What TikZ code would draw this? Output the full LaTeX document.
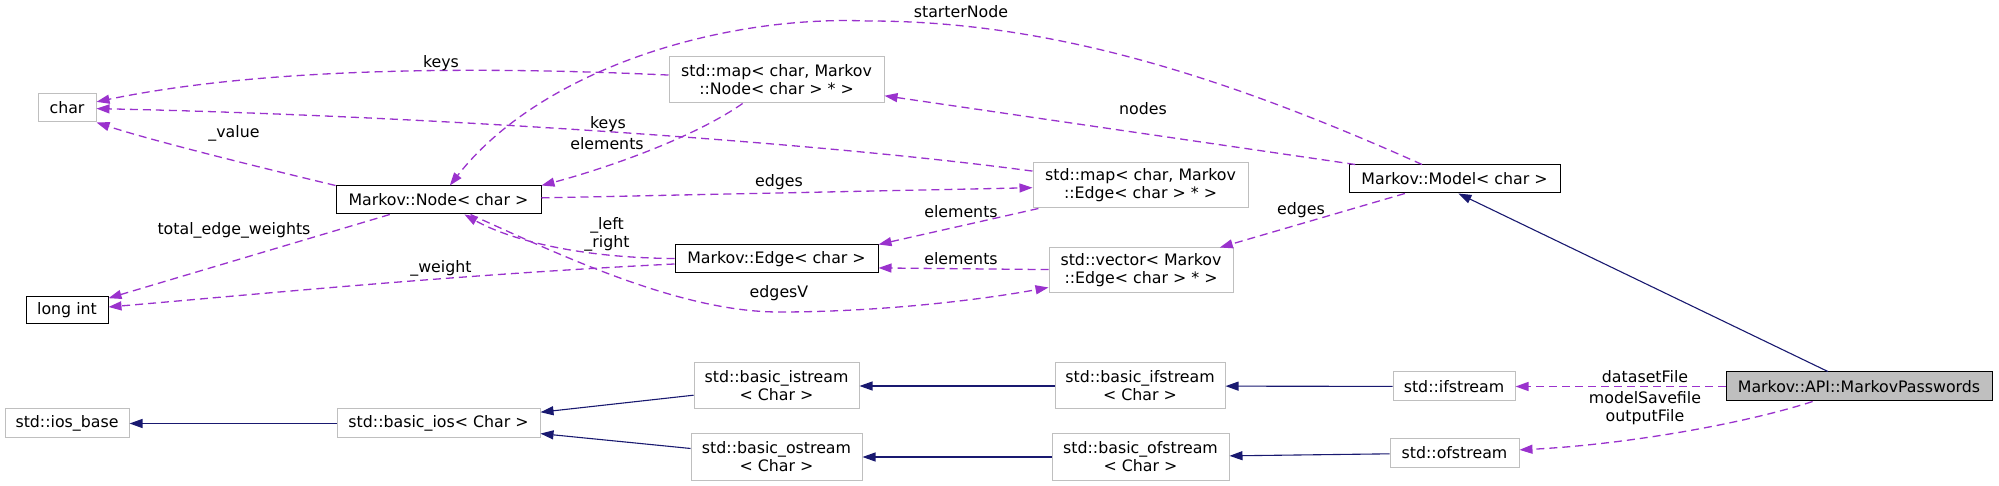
\documentclass[tikz,border=0pt]{standalone}
\usepackage{fontspec}
\setmainfont{DejaVu Sans}
\usetikzlibrary{arrows.meta}
\definecolor{mauve}{HTML}{9A32CD}
\definecolor{navy}{HTML}{191970}
\definecolor{boxgrey}{HTML}{BFBFBF}
\newcommand{\dgfont}{\fontsize{7.9pt}{9pt}\selectfont}

\begin{document}
\begin{tikzpicture}[x=0.5pt,y=-0.5pt,
  cls/.style={draw=black,fill=white,line width=0.5pt,inner sep=0pt,align=center,font=\dgfont},
  ext/.style={cls,draw=boxgrey},
  hl/.style={cls,fill=boxgrey},
  lbl/.style={font=\dgfont,inner sep=0pt},
  inh/.style={draw=navy,line width=0.55pt,-{Triangle[length=6.5pt,width=4.5pt]}},
  use/.style={draw=mauve,line width=0.65pt,dash pattern=on 4pt off 2.5pt,-{Triangle[length=6.5pt,width=4.5pt]}}]
  \useasboundingbox (0,0) rectangle (1999,486);
  % classes
  \node[ext,minimum width=29pt,minimum height=14pt] (char) at (67,108) {char};
  \node[cls,minimum width=102.5pt,minimum height=14pt] (node) at (438.5,200) {Markov::Node< char >};
  \node[cls,minimum width=41pt,minimum height=13.5pt] (longint) at (67,310.5) {long int};
  \node[ext,minimum width=107.5pt,minimum height=23pt] (mapnode) at (776.5,80) {std::map< char, Markov\\::Node< char > * >};
  \node[ext,minimum width=107.5pt,minimum height=22.5pt] (mapedge) at (1140.5,185.5) {std::map< char, Markov\\::Edge< char > * >};
  \node[cls,minimum width=101.5pt,minimum height=14pt] (edge) at (776.5,259) {Markov::Edge< char >};
  \node[ext,minimum width=92pt,minimum height=22.5pt] (vector) at (1141,270.5) {std::vector< Markov\\::Edge< char > * >};
  \node[cls,minimum width=105.5pt,minimum height=14pt] (model) at (1454.5,179) {Markov::Model< char >};
  % streams
  \node[ext,minimum width=62pt,minimum height=14.5pt] (iosbase) at (67,423.5) {std::ios\_base};
  \node[ext,minimum width=101.5pt,minimum height=14.5pt] (basicios) at (438.5,423.5) {std::basic\_ios< Char >};
  \node[ext,minimum width=82.5pt,minimum height=23pt] (istream) at (776.5,386) {std::basic\_istream\\< Char >};
  \node[ext,minimum width=85.5pt,minimum height=23pt] (ostream) at (776.5,457) {std::basic\_ostream\\< Char >};
  \node[ext,minimum width=85pt,minimum height=23pt] (bifs) at (1140,386) {std::basic\_ifstream\\< Char >};
  \node[ext,minimum width=88.5pt,minimum height=23pt] (bofs) at (1140.5,457) {std::basic\_ofstream\\< Char >};
  \node[ext,minimum width=61pt,minimum height=14.5pt] (ifs) at (1454,386.5) {std::ifstream};
  \node[ext,minimum width=64.5pt,minimum height=14pt] (ofs) at (1454.5,453) {std::ofstream};
  \node[hl,minimum width=133pt,minimum height=14.5pt] (mp) at (1859,386.5) {Markov::API::MarkovPasswords};
  % inheritance
  \draw[inh] (mp) -- (model.-75);
  \draw[inh] (ifs) -- (bifs);
  \draw[inh] (ofs) -- (bofs);
  \draw[inh] (bifs) -- (istream);
  \draw[inh] (bofs) -- (ostream);
  \draw[inh] (istream) -- (basicios);
  \draw[inh] (ostream) -- (basicios);
  \draw[inh] (basicios) -- (iosbase);
  % usage
  \draw[use] (mp) -- (ifs);
  \draw[use] (mp) .. controls (1740,425) and (1620,445) .. (ofs);
  \draw[use] (model) .. controls (1224,76) and (1050,21) .. (868,21)
    .. controls (720,15) and (540,70) .. (node);
  \draw[use] (model) -- (mapnode);
  \draw[use] (model) -- (vector);
  \draw[use] (mapnode) .. controls (450,65) and (250,70) .. (char);
  \draw[use] (mapnode) .. controls (690,140) and (600,170) .. (node.north east);
  \draw[use] (mapedge) .. controls (800,140) and (400,115) .. (char);
  \draw[use] (mapedge) -- (edge.north east);
  \draw[use] (node) -- (mapedge);
  \draw[use] (node.north west) .. controls (250,165) and (150,140) .. (char.south east);
  \draw[use] (node) -- (longint);
  \draw[use] (edge) .. controls (580,258) and (510,240) .. (node);
  \draw[use] (edge) .. controls (450,275) and (250,295) .. (longint);
  \draw[use] (vector) -- (edge.-5);
  \draw[use] (node) .. controls (560,255) and (680,312) .. (779,312)
    .. controls (880,312) and (980,300) .. (vector);
  % labels
  \node[lbl] (l-starter) at (961,12) {starterNode};
  \node[lbl] (l-nodes) at (1143,109) {nodes};
  \node[lbl] (l-keys1) at (441,63) {keys};
  \node[lbl] (l-keys2) at (608,124) {keys};
  \node[lbl] (l-elem1) at (607,144) {elements};
  \node[lbl] (l-value) at (234,133) {\_value};
  \node[lbl] (l-edges1) at (779,182) {edges};
  \node[lbl] (l-edges2) at (1301,210) {edges};
  \node[lbl] (l-elem2) at (961,212) {elements};
  \node[lbl] (l-elem3) at (961,259) {elements};
  \node[lbl] (l-total) at (234,230) {total\_edge\_weights};
  \node[lbl,align=center] (l-lr) at (607,234) {\_left\\\_right};
  \node[lbl] (l-weight) at (441,268) {\_weight};
  \node[lbl] (l-edgesv) at (779,293) {edgesV};
  \node[lbl] (l-dataset) at (1645,377) {datasetFile};
  \node[lbl,align=center] (l-save) at (1645,408) {modelSavefile\\outputFile};
\end{tikzpicture}
\end{document}
